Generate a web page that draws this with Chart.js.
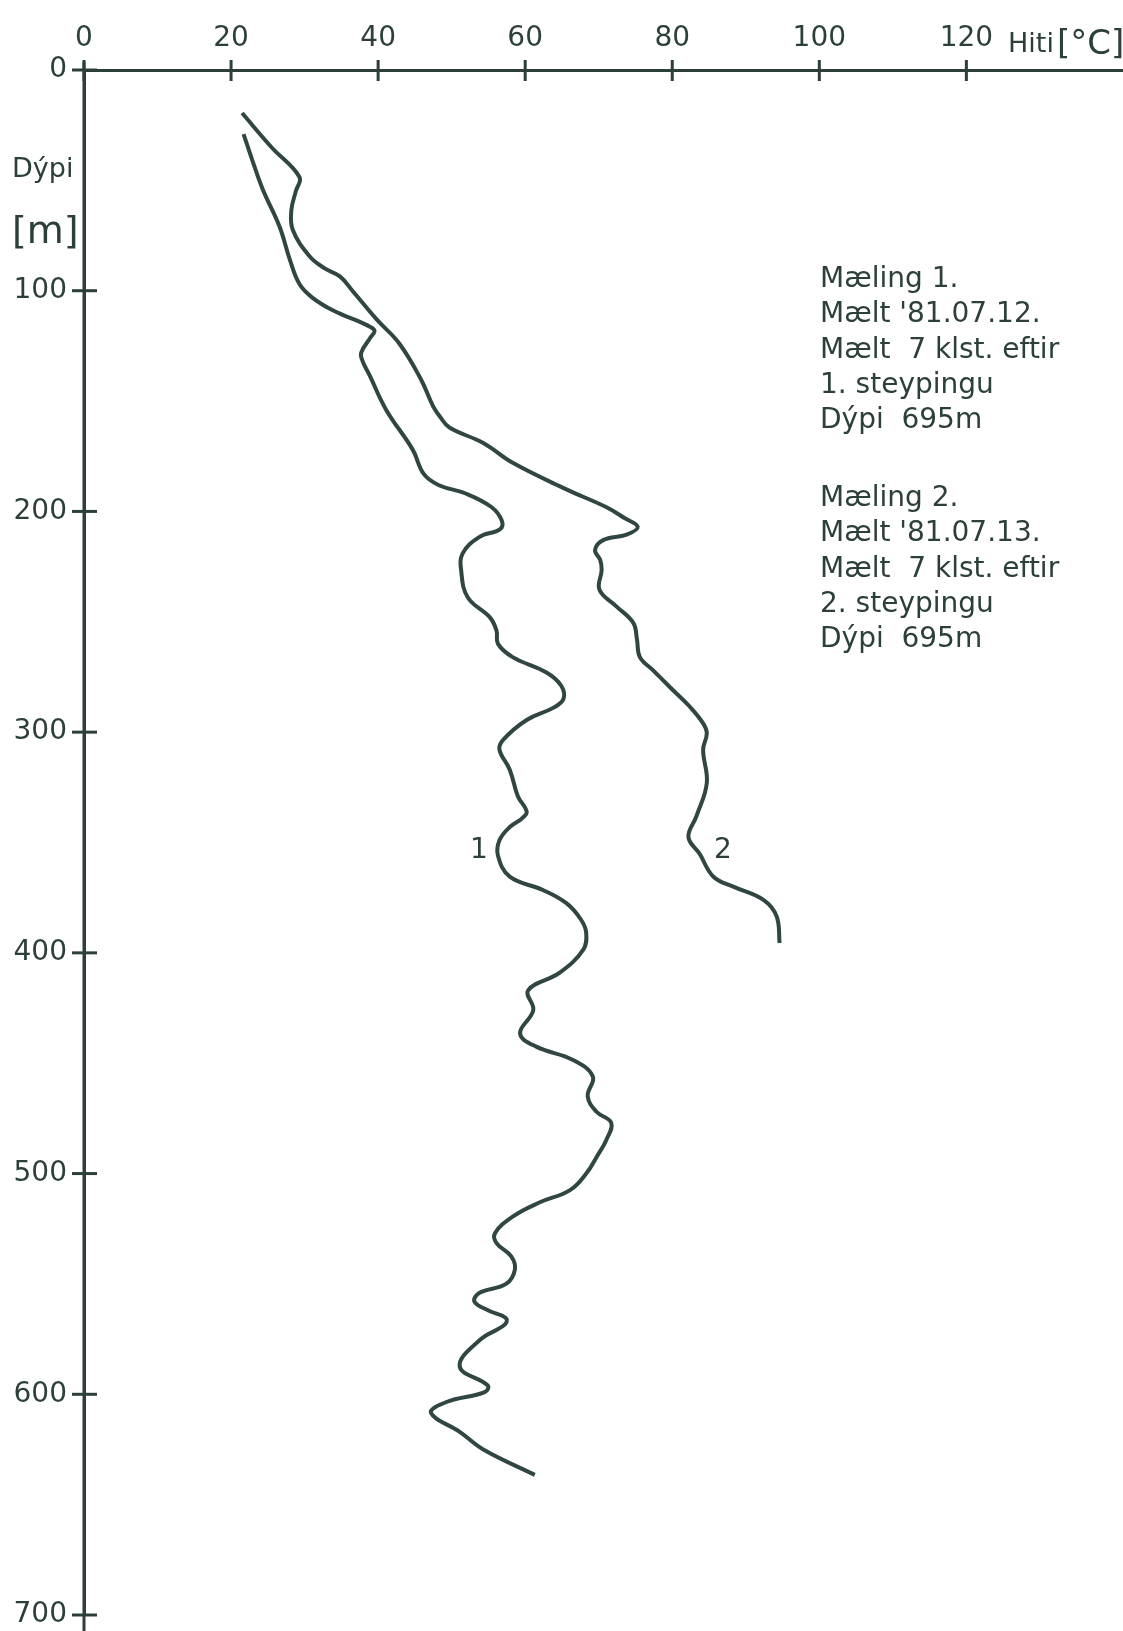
<!DOCTYPE html>
<html>
<head>
<meta charset="utf-8">
<script src="https://cdn.jsdelivr.net/npm/chart.js@4.4.1/dist/chart.umd.min.js"></script>
<style>
    html, body { margin: 0; padding: 0; background: #fff; }
    #wrap { width: 1123px; height: 1631px; }
</style>
</head>
<body>
<div id="wrap"><canvas id="myChart" width="1123" height="1631"></canvas></div>
<script>
// Mæling 1 - dýpi [m] og hiti [°C]
const depth1 = [29, 40, 54, 71, 86, 97, 103, 109, 115.5, 118, 121, 128, 132, 138, 154, 172, 183, 188, 192, 198, 204, 208,
    211.5, 219, 227, 239, 248, 254, 260, 266, 273, 279, 285, 289, 294.5, 303.5, 308, 317, 329, 336, 339, 343, 349, 356,
    365.5, 371.5, 377.5, 385, 391, 398.5, 409, 417, 426, 436.5, 442.5, 448.5, 456, 465, 472, 477, 485, 492, 500, 507.5,
    513, 519.5, 527, 531.5, 537.5, 543.5, 550, 554, 558, 562, 565.5, 568.5, 575.5, 587.5, 596, 599, 603.5, 608.5, 617,
    625, 636.5];
const temp1 = [21.7, 22.8, 24.3, 26.6, 28.0, 29.3, 31.0, 33.9, 38.4, 39.5, 39.0, 37.7, 37.9, 38.8, 41.1, 44.7, 46.2, 48.2,
    52.0, 55.4, 56.8, 56.6, 53.8, 51.5, 51.3, 52.2, 55.2, 56.1, 56.3, 58.3, 62.9, 64.9, 65.2, 63.8, 60.2, 57.0, 56.5, 57.9,
    59.0, 60.2, 59.6, 57.9, 56.5, 56.3, 57.9, 62.4, 65.6, 67.6, 68.3, 67.9, 64.7, 60.4, 61.1, 59.3, 61.5, 66.5, 69.2, 68.5,
    69.7, 71.7, 71.0, 69.8, 68.3, 66.1, 62.0, 58.3, 55.9, 56.1, 58.1, 58.6, 57.4, 53.8, 53.1, 55.0, 57.4, 57.2, 53.8, 51.1,
    54.9, 54.5, 49.3, 47.2, 51.1, 54.3, 61.3];

// Mæling 2
const depth2 = [19.5, 35, 48.5, 55, 63.5, 72.5, 84.5, 90, 93.5, 100, 113, 124, 140, 152.5, 157, 162, 169, 178, 190, 198,
    203, 207, 210.5, 213, 217.5, 222, 226.5, 235.5, 243, 250.5, 258, 266, 272, 280, 288.5, 296, 300.5, 308, 323, 338,
    347.5, 355, 365.5, 370, 376, 383.5, 395.5];
const temp2 = [21.5, 25.5, 29.3, 28.8, 28.2, 28.4, 30.7, 32.8, 34.8, 36.5, 39.8, 42.9, 45.8, 47.5, 48.4, 49.7, 54.3, 58.3,
    65.6, 71.0, 73.5, 75.3, 73.8, 70.6, 69.5, 70.2, 70.4, 70.1, 72.4, 74.7, 75.2, 75.6, 77.4, 79.8, 82.4, 84.2, 84.7, 84.2,
    84.7, 83.3, 82.2, 83.7, 85.6, 88.3, 92.4, 94.2, 94.6];

const seriesNames = ['1', '2'];
const notes1 = ['Mæling 1.', "Mælt '81.07.12.", 'Mælt  7 klst. eftir', '1. steypingu', 'Dýpi  695m'];
const notes2 = ['Mæling 2.', "Mælt '81.07.13.", 'Mælt  7 klst. eftir', '2. steypingu', 'Dýpi  695m'];

const ink = '#2d3f3b';
const lineInk = '#2f4642';
const FONT = '"DejaVu Sans", sans-serif';

const toPoints = (t, d) => t.map((v, i) => ({ x: v, y: d[i] }));

// strik sem ganga í gegnum ásana og allur textinn
const extras = {
    id: 'extras',
    afterDraw(chart) {
        const ctx = chart.ctx;
        const xs = chart.scales.x;
        const ys = chart.scales.y;
        ctx.save();
        ctx.strokeStyle = ink;
        ctx.lineWidth = 3;
        ctx.lineCap = 'butt';
        ys.ticks.forEach(t => {
            const py = ys.getPixelForValue(t.value);
            ctx.beginPath();
            ctx.moveTo(xs.left - 12, py);
            ctx.lineTo(xs.left + 13, py);
            ctx.stroke();
        });
        xs.ticks.forEach(t => {
            const px = xs.getPixelForValue(t.value);
            ctx.beginPath();
            ctx.moveTo(px, ys.top - 10);
            ctx.lineTo(px, ys.top + 11);
            ctx.stroke();
        });
        ctx.beginPath();
        ctx.moveTo(xs.left, ys.top - 8);
        ctx.lineTo(xs.left, chart.height);
        ctx.stroke();

        ctx.fillStyle = ink;
        ctx.textBaseline = 'alphabetic';
        ctx.textAlign = 'left';
        ctx.font = '27px ' + FONT;
        ctx.fillText('Hiti', 1008, 52);
        ctx.font = '34px ' + FONT;
        ctx.fillText('[°C]', 1057, 54);
        ctx.font = '27px ' + FONT;
        ctx.fillText('Dýpi', 12, 177);
        ctx.font = '38px ' + FONT;
        ctx.fillText('[m]', 12, 243);

        ctx.font = '28px ' + FONT;
        notes1.forEach((s, i) => ctx.fillText(s, 820, 287 + i * 35.3));
        notes2.forEach((s, i) => ctx.fillText(s, 820, 506 + i * 35.3));

        // merki ferlanna
        ctx.textAlign = 'center';
        ctx.font = '28px ' + FONT;
        ctx.fillText(seriesNames[0], xs.getPixelForValue(53.7), ys.getPixelForValue(357));
        ctx.fillText(seriesNames[1], xs.getPixelForValue(86.9), ys.getPixelForValue(357));
        ctx.restore();
    }
};

const data = {
    datasets: [
        {
            label: seriesNames[0],
            data: toPoints(temp1, depth1),
            showLine: true,
            borderColor: lineInk,
            borderWidth: 4,
            pointRadius: 0,
            tension: 0.4,
            fill: false
        },
        {
            label: seriesNames[1],
            data: toPoints(temp2, depth2),
            showLine: true,
            borderColor: lineInk,
            borderWidth: 4,
            pointRadius: 0,
            tension: 0.4,
            fill: false
        }
    ]
};

const config = {
    type: 'scatter',
    data: data,
    options: {
        responsive: false,
        animation: false,
        layout: { padding: { top: 0, right: 0, bottom: 16, left: 0 } },
        plugins: {
            legend: { display: false },
            tooltip: { enabled: false }
        },
        scales: {
            x: {
                type: 'linear',
                position: 'top',
                min: 0,
                max: 141.3,
                afterBuildTicks: s => { s.ticks = s.ticks.filter(t => t.value <= 120); },
                afterFit: s => { s.height = 70; s.paddingLeft = 0; s.paddingRight = 0; },
                ticks: {
                    stepSize: 20,
                    padding: 14,
                    color: ink,
                    font: { family: FONT, size: 28 },
                    maxRotation: 0
                },
                grid: { display: true, drawOnChartArea: false, drawTicks: false },
                border: { display: true, color: ink, width: 3 }
            },
            y: {
                type: 'linear',
                reverse: true,
                min: 0,
                max: 700,
                afterFit: s => { s.width = 84; s.paddingTop = 0; s.paddingBottom = 0; },
                ticks: {
                    stepSize: 100,
                    padding: 17,
                    color: ink,
                    font: { family: FONT, size: 28 }
                },
                grid: { display: true, drawOnChartArea: false, drawTicks: false },
                border: { display: true, color: ink, width: 3 }
            }
        }
    },
    plugins: [extras]
};

const myChart = new Chart(document.getElementById('myChart'), config);
</script>
</body>
</html>
